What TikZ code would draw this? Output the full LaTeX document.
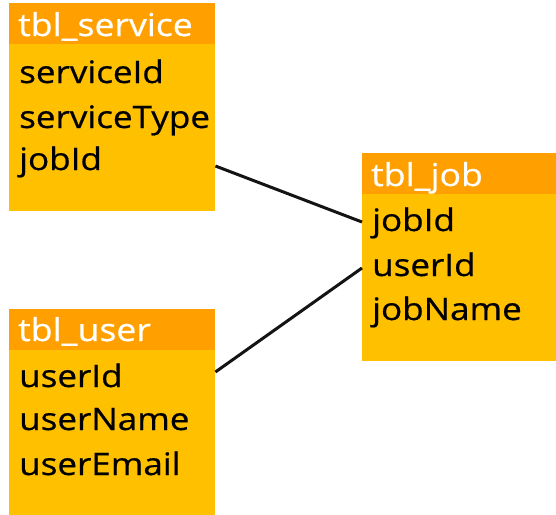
\documentclass[tikz,border=0pt]{standalone}
\usepackage{fontspec}
\setmainfont{Open Sans}
\newfontfamily\widefont[FakeStretch=1.13,FakeBold=0.6]{Open Sans}
\definecolor{hdrcol}{HTML}{FFA000}
\definecolor{bodycol}{HTML}{FFC000}
\definecolor{linecol}{HTML}{141414}
\begin{document}
\begin{tikzpicture}[x=1pt,y=-1pt,
  tablebox/.style={fill=bodycol, draw=none, anchor=north west, inner sep=0pt, minimum width=206pt},
  tablehead/.style={fill=hdrcol, draw=none, anchor=north west, inner sep=0pt, minimum width=206pt, minimum height=41pt},
  titletext/.style={anchor=base west, inner sep=0pt, text=white, font=\widefont\fontsize{31.5}{31.5}\selectfont},
  fieldtext/.style={anchor=base west, inner sep=0pt, text=black, font=\widefont\fontsize{31}{31}\selectfont},
  link/.style={draw=linecol, line width=3pt}]
\useasboundingbox (0,0) rectangle (556,514);
% tbl_service
\node[tablebox, minimum height=208pt] (svc) at (9,3) {};
\node[tablehead] (svch) at (9,3) {};
\node[titletext] (svct) at (18,36) {tbl\_service};
\node[fieldtext] (svc1) at (19,83) {serviceId};
\node[fieldtext] (svc2) at (19,128) {serviceType};
\node[fieldtext] (svc3) at (19,170) {jobId};
% tbl_job
\node[tablebox, minimum height=208pt] (job) at (362,153) {};
\node[tablehead] (jobh) at (362,153) {};
\node[titletext] (jobt) at (371,186) {tbl\_job};
\node[fieldtext] (job1) at (372,231) {jobId};
\node[fieldtext] (job2) at (372,276) {userId};
\node[fieldtext] (job3) at (372,320) {jobName};
% tbl_user
\node[tablebox, minimum height=206pt] (usr) at (9,309) {};
\node[tablehead] (usrh) at (9,309) {};
\node[titletext] (usrt) at (18,341) {tbl\_user};
\node[fieldtext] (usr1) at (19,387) {userId};
\node[fieldtext] (usr2) at (19,430) {userName};
\node[fieldtext] (usr3) at (19,475) {userEmail};
% connectors
\coordinate (a1) at (215,166);
\coordinate (a2) at (362,222);
\coordinate (b1) at (215,372);
\coordinate (b2) at (362,268);
\draw[link] (svc.east |- a1) -- (job.west |- a2);
\draw[link] (usr.east |- b1) -- (job.west |- b2);
\end{tikzpicture}
\end{document}
